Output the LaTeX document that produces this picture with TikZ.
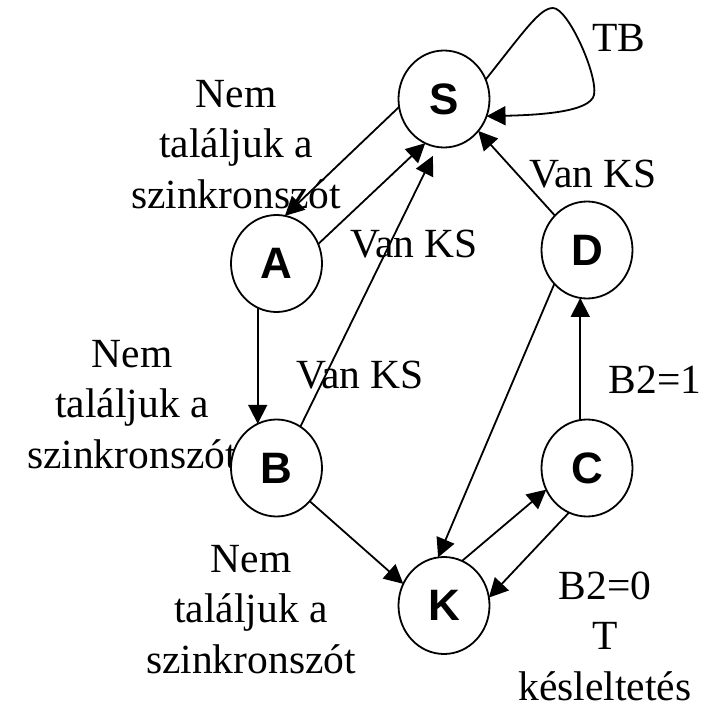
\documentclass[tikz,border=0pt]{standalone}
\usepackage{fontspec}
\setmainfont{Liberation Serif}
\newfontfamily\arialfont{Liberation Sans}
\usetikzlibrary{positioning,arrows.meta,shapes.geometric}

\begin{document}
\begin{tikzpicture}[x=1pt,y=-1pt,line width=1.8pt,
  >={Triangle[length=19pt,width=19pt]},
  state/.style={ellipse,draw,fill=white,minimum width=91pt,minimum height=97pt,
    inner sep=0pt,outer sep=0pt,font=\arialfont\bfseries\fontsize{44pt}{44pt}\selectfont},
  lbl/.style={align=center,inner sep=0pt,anchor=base,
    font=\fontsize{41.5pt}{50.5pt}\selectfont}]

  \useasboundingbox (0,0) rectangle (710,706);

  % labels first, the states cover them (anchor = last line)
  \node[inner sep=0pt,anchor=base west,font=\arialfont\bfseries\fontsize{44pt}{44pt}\selectfont] (frag) at (-9,-3) {)};
  \node[lbl] (l1) at (236,208) {Nem\\találjuk a\\szinkronszót};
  \node[lbl] (l2) at (132,468) {Nem\\találjuk a\\szinkronszót};
  \node[lbl] (l3) at (251,673) {Nem\\találjuk a\\szinkronszót};
  \node[lbl] (l4) at (414,257) {Van KS};
  \node[lbl] (l5) at (360,388) {Van KS};
  \node[lbl] (l6) at (593,188) {Van KS};
  \node[lbl] (l7) at (619,52) {TB};
  \node[lbl] (l8) at (655,393) {B2=1};
  \node[lbl] (l9) at (605,700) {B2=0\\T\\késleltetés};

  \node[state] (s) at (444,99) {S};
  \node[state] (a) at (276.5,263.5) {A};
  \node[state] (b) at (276.5,468) {B};
  \node[state] (d) at (587,250) {D};
  \node[state] (c) at (587,468) {C};
  \node[state] (k) at (444,605.5) {K};

  \path[->] (s.190) edge (a.80);
  \path[->] (a.25) edge (s.247);
  \path[->,shorten >=10pt] (b.60) edge (s.262);
  \path[->] (d.133) edge (s.317);
  \draw[->] (s.25) .. controls (525,30) and (540,8) .. (553,8)
    .. controls (568,8) and (598,75) .. (594,95)
    .. controls (590,112) and (540,115) .. (s.338);
  \path[->] (a.247) edge (b.113);
  \path[->] (b.315) edge (k.152);
  \path[->] (d.226) edge (k.97);
  \path[->] (k.68) edge (c.208);
  \path[->] (c.248) edge (k.10);
  \path[->] (c.98) edge (d.262);

\end{tikzpicture}
\end{document}
